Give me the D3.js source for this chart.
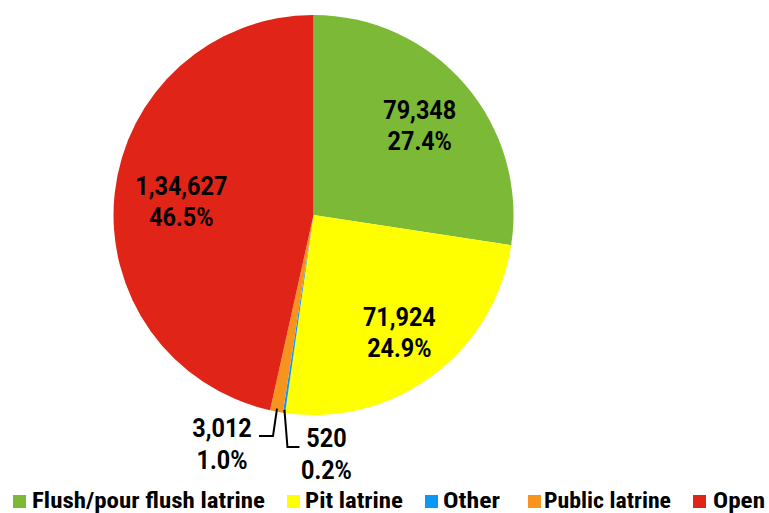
<!DOCTYPE html>
<html>
<head>
<meta charset="utf-8">
<script src="https://cdn.jsdelivr.net/npm/d3@7"></script>
<style>
  html, body { margin: 0; padding: 0; background: #fff; }
  svg { display: block; }
</style>
</head>
<body>
<svg id="chart" width="769" height="513"></svg>
<script>
const categories = ["Flush/pour flush latrine", "Pit latrine", "Other", "Public latrine", "Open"];
const values = [79348, 71924, 520, 3012, 134627];
const valueLabels = ["79,348", "71,924", "520", "3,012", "1,34,627"];
const percentLabels = ["27.4%", "24.9%", "0.2%", "1.0%", "46.5%"];
const colors = ["#7cb936", "#ffff00", "#0a98f5", "#f7941d", "#e02418"];
// label placement radius per slice (layout)
const labelRadius = [140, 144, 0, 0, 133];
// legend layout helpers (x of swatch, x of text, text width)
const legendSwatchX = [13, 287, 425, 528, 693];
const legendTextX = [32, 305, 443, 544, 713];
const legendTextW = [233, 98, 57, 127, 52];

const svg = d3.select("#chart");
const cx = 313.5, cy = 215, r = 200;
const g = svg.append("g").attr("transform", `translate(${cx},${cy})`);

const pie = d3.pie().sort(null).value(d => d.value);
const data = categories.map((c, i) => ({ name: c, value: values[i], vl: valueLabels[i], pl: percentLabels[i], color: colors[i], i }));
const arcs = pie(data);
const arc = d3.arc().innerRadius(0).outerRadius(r);

g.selectAll("path.slice").data(arcs).enter().append("path")
  .attr("class", "slice")
  .attr("d", arc)
  .attr("fill", d => d.data.color);

const labelFont = "Roboto, 'Liberation Sans', sans-serif";
function addLabel(x, y, d, gap) {
  const t = g.append("text")
    .attr("transform", `translate(${x},${y}) scale(0.9,1)`)
    .attr("text-anchor", "middle")
    .attr("font-family", labelFont)
    .attr("font-weight", "bold")
    .attr("font-size", 26)
    .attr("fill", "#000");
  t.append("tspan").attr("x", 0).attr("y", 0).text(d.data.vl);
  t.append("tspan").attr("x", 0).attr("y", gap).text(d.data.pl);
}

const bigOnes = arcs.filter(d => (d.endAngle - d.startAngle) > 0.3);
bigOnes.forEach(d => {
  const rr = labelRadius[d.data.i];
  const [x, y] = d3.arc().innerRadius(rr).outerRadius(rr).centroid(d);
  addLabel(x, y - 5, d, 31);
});

// small slices with leader lines
const edgeArc = d3.arc().innerRadius(r - 3).outerRadius(r - 3);
const small = arcs.filter(d => (d.endAngle - d.startAngle) <= 0.3);
small.forEach(d => {
  const [ex, ey] = edgeArc.centroid(d);
  const leftSide = d.data.name === "Public latrine";
  let pts, tx, ty;
  if (leftSide) {
    const bx = ex - 4, by = 221;
    pts = [[ex, ey], [bx, by], [bx - 14, by]];
    tx = bx - 51; ty = by + 1;
  } else {
    const bx = ex + 3, by = 232;
    pts = [[ex, ey], [bx, by], [bx + 12, by]];
    tx = bx + 39; ty = by;
  }
  g.append("path")
    .attr("d", d3.line()(pts))
    .attr("fill", "none")
    .attr("stroke", "#000")
    .attr("stroke-width", 2);
  addLabel(tx, ty, d, 32);
});

// legend
const legend = svg.append("g");
categories.forEach((c, i) => {
  legend.append("rect")
    .attr("x", legendSwatchX[i]).attr("y", 495)
    .attr("width", 13).attr("height", 13)
    .attr("fill", colors[i]);
  legend.append("text")
    .attr("x", legendTextX[i]).attr("y", 508)
    .attr("font-family", "'Liberation Sans Narrow', 'Roboto Condensed', 'Liberation Sans', sans-serif")
    .attr("font-weight", "bold")
    .attr("font-size", 22)
    .attr("textLength", legendTextW[i])
    .attr("lengthAdjust", "spacingAndGlyphs")
    .attr("fill", "#000")
    .text(c);
});
</script>
</body>
</html>
